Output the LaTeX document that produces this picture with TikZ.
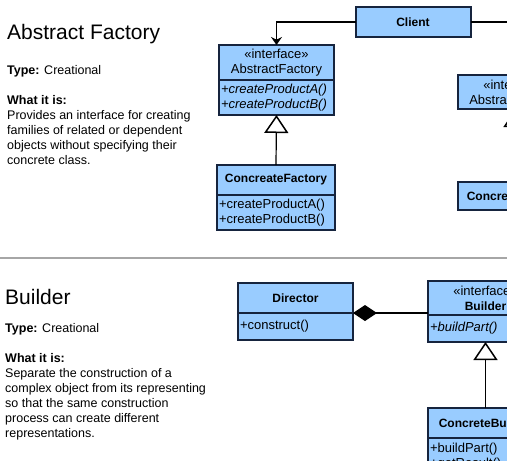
\documentclass[tikz,border=0pt]{standalone}
\usepackage{fontspec}
\setmainfont{Liberation Sans}
\usepackage{xcolor}
\usetikzlibrary{positioning, arrows.meta, calc}

\definecolor{boxblue}{RGB}{153,204,255}
\definecolor{boxedge}{RGB}{22,36,62}

\newcommand{\cname}[1]{{\fontsize{12}{15}\selectfont\bfseries #1}}

\begin{document}
\begin{tikzpicture}[x=1pt, y=-1pt]
\tikzset{
  base/.style={draw=boxedge, line width=2pt, fill=boxblue, outer sep=0pt,
    inner xsep=2pt, inner ysep=0pt, text width=111pt, minimum width=115pt},
  hd/.style={base, align=center, font=\fontsize{13}{15}\selectfont},
  mb/.style={base, align=left, font=\fontsize{13}{15}\selectfont},
  ttl/.style={anchor=base west, inner sep=0pt, font=\fontsize{21}{25}\selectfont},
  txt/.style={anchor=base west, inner sep=0pt, align=left, font=\fontsize{12.5}{15}\selectfont},
  conn/.style={line width=1.2pt, black},
  gen/.style={conn, -{Triangle[open, length=18pt, width=24pt, line width=1.5pt]}},
}

\useasboundingbox (0,0) rectangle (507,461);
\clip (0,0) rectangle (507,461);
\fill[white] (0,0) rectangle (507,461);

% abstract factory
\node[ttl] (t1) at (7,39) {Abstract Factory};
\node[txt] (ty1) at (7,74) {\textbf{Type:} Creational};
% base anchor sits on the last line
\node[txt] (d1) at (7,164) {\textbf{What it is:}\\Provides an interface for creating\\families of related or dependent\\objects without specifying their\\concrete class.};

\node[hd, minimum height=30pt] (client) at (413,22) {\cname{Client}};
\node[hd, minimum height=35pt] (af) at (276.5,62.5) {«interface»\\AbstractFactory};
\node[mb, minimum height=35pt, below=0pt of af] (afm) {\textit{+createProductA()}\\\textit{+createProductB()}};
\node[hd, minimum height=30pt, text width=114pt] (cf) at (276,180) {\cname{ConcreateFactory}};
\node[mb, minimum height=35pt, text width=114pt, below=0pt of cf] (cfm) {+createProductA()\\+createProductB()};
\node[hd, minimum height=34pt] (ap) at (515.5,92) {«interface»\\AbstractProduct};
\node[hd, minimum height=28pt] (cp) at (515.5,196) {\cname{ConcreteProduct}};

\draw[conn, ->, >={Stealth[length=8pt, width=11pt]}] (client.west) -| (af.north);
\draw[conn, ->, >={Stealth[length=8pt, width=11pt]}] (client.east) -| (ap.north);
\draw[gen] (cf.north) -- (afm.south);
\draw[gen] (cp.north) -- (ap.south);

\draw[gray!70, line width=1.5pt] (0,258) -- (507,258);

% builder
\node[ttl] (t2) at (5,304) {Builder};
\node[txt] (ty2) at (5,332) {\textbf{Type:} Creational};
\node[txt] (d2) at (5,437) {\textbf{What it is:}\\Separate the construction of a\\complex object from its representing\\so that the same construction\\process can create different\\representations.};

\node[hd, minimum height=30pt] (dir) at (295.5,298) {\cname{Director}};
\node[mb, minimum height=27pt, below=0pt of dir] (dirm) {+construct()};
\node[hd, minimum height=34pt] (bld) at (485.5,298) {«interface»\\\cname{Builder}};
\node[mb, minimum height=27pt, below=0pt of bld] (bldm) {\textit{+buildPart()}};
\node[hd, minimum height=30pt] (cb) at (485.5,423) {\cname{ConcreteBuilder}};
\node[mb, minimum height=37pt, below=0pt of cb] (cbm) {+buildPart()\\+getResult()};

\draw[conn, {Diamond[length=24pt, width=16pt]}-] (dirm.north east) -- (dirm.north east -| bld.west);
\draw[gen] (cb.north) -- (bldm.south);
\end{tikzpicture}
\end{document}
